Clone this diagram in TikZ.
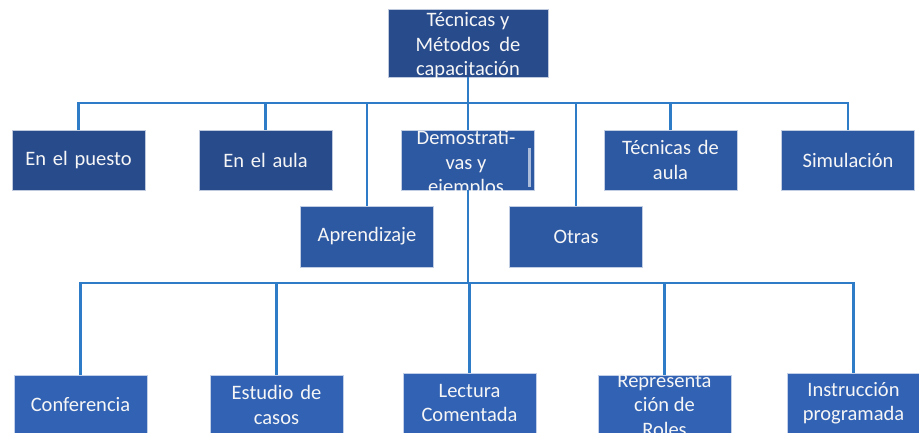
\documentclass[tikz,border=0pt]{standalone}
\usepackage{fontspec}
\setmainfont{Carlito}
\definecolor{boxdark}{RGB}{40, 75, 140}
\definecolor{boxmid}{RGB}{45, 88, 162}
\definecolor{boxlight}{RGB}{50, 98, 180}
\definecolor{linkblue}{RGB}{46, 123, 200}
\tikzset{
  box/.style={fill=#1, draw=white!70!#1, line width=0.8pt, text=white!93!gray,
              minimum width=133pt, minimum height=60pt, inner sep=0pt,
              text width=133pt, align=center,
              font=\fontsize{20.5}{24.5}\selectfont},
  boxtext/.style={text=white!93!gray, align=center, font=\fontsize{20.5}{24.5}\selectfont},
  link/.style={draw=linkblue, line width=2.1pt}
}
\begin{document}
\begin{tikzpicture}[x=1pt, y=1pt]
  \clip (0,0) rectangle (919,-432);
  % root
  \node[box=boxdark, minimum width=160pt, minimum height=68pt] (root) at (468,-43) {};
  \node[boxtext] (roottxt) at (468,-46) {Técnicas y\\Métodos~~de\\capacitación};
  % first level
  \node[box=boxdark]  (puesto)    at (78.5,-160)  {En el puesto};
  \node[box=boxdark]  (aula)      at (265.5,-160) {En el aula};
  \node[box=boxmid]   (demo)      at (468,-160)   {};
  \node[box=boxmid]   (tecaula)   at (670.5,-160) {Técnicas de\\aula};
  \node[box=boxmid]   (simul)     at (848,-160)   {Simulación};
  \node[box=boxmid, minimum height=61pt] (aprend) at (367,-236.5) {Aprendizaje};
  \node[box=boxmid, minimum height=61pt] (otras)  at (576,-236.5) {Otras};
  \begin{scope}
    \clip (demo.south west) rectangle (demo.north east);
    \node[boxtext] (demotxt) at (466,-164) {Demostrati-\\vas y\\ejemplos};
    \fill[white!60!boxmid] (528,-148) rectangle (530.5,-187);
  \end{scope}
  % second level
  \node[box=boxlight] (confer)  at (80.5,-405)  {Conferencia};
  \node[box=boxlight] (estudio) at (276.5,-405) {Estudio de\\casos};
  \node[box=boxlight] (lectura) at (469.5,-403) {Lectura\\Comentada};
  \node[box=boxlight] (roles)   at (664.5,-405) {};
  \node[box=boxlight, minimum width=131pt] (instr) at (853.5,-403) {Instrucción\\programada};
  \begin{scope}
    \clip (roles.south west) rectangle (roles.north east);
    \node[boxtext] (rolestxt) at (664.5,-405) {Representa\\ción de\\Roles};
  \end{scope}
  % connectors
  \coordinate (busA) at (468,-103);
  \coordinate (busB) at (468,-283);
  \draw[link] (root.south) -- (demo.north);
  \draw[link] (busA) -| (puesto.north);
  \draw[link] (busA) -| (aula.north);
  \draw[link] (busA) -| (aprend.north);
  \draw[link] (busA) -| (otras.north);
  \draw[link] (busA) -| (tecaula.north);
  \draw[link] (busA) -| (simul.north);
  \draw[link] (demo.south) -- (busB);
  \foreach \kid in {confer, estudio, lectura, roles, instr}
    \draw[link] (busB) -| (\kid.north);
\end{tikzpicture}
\end{document}
